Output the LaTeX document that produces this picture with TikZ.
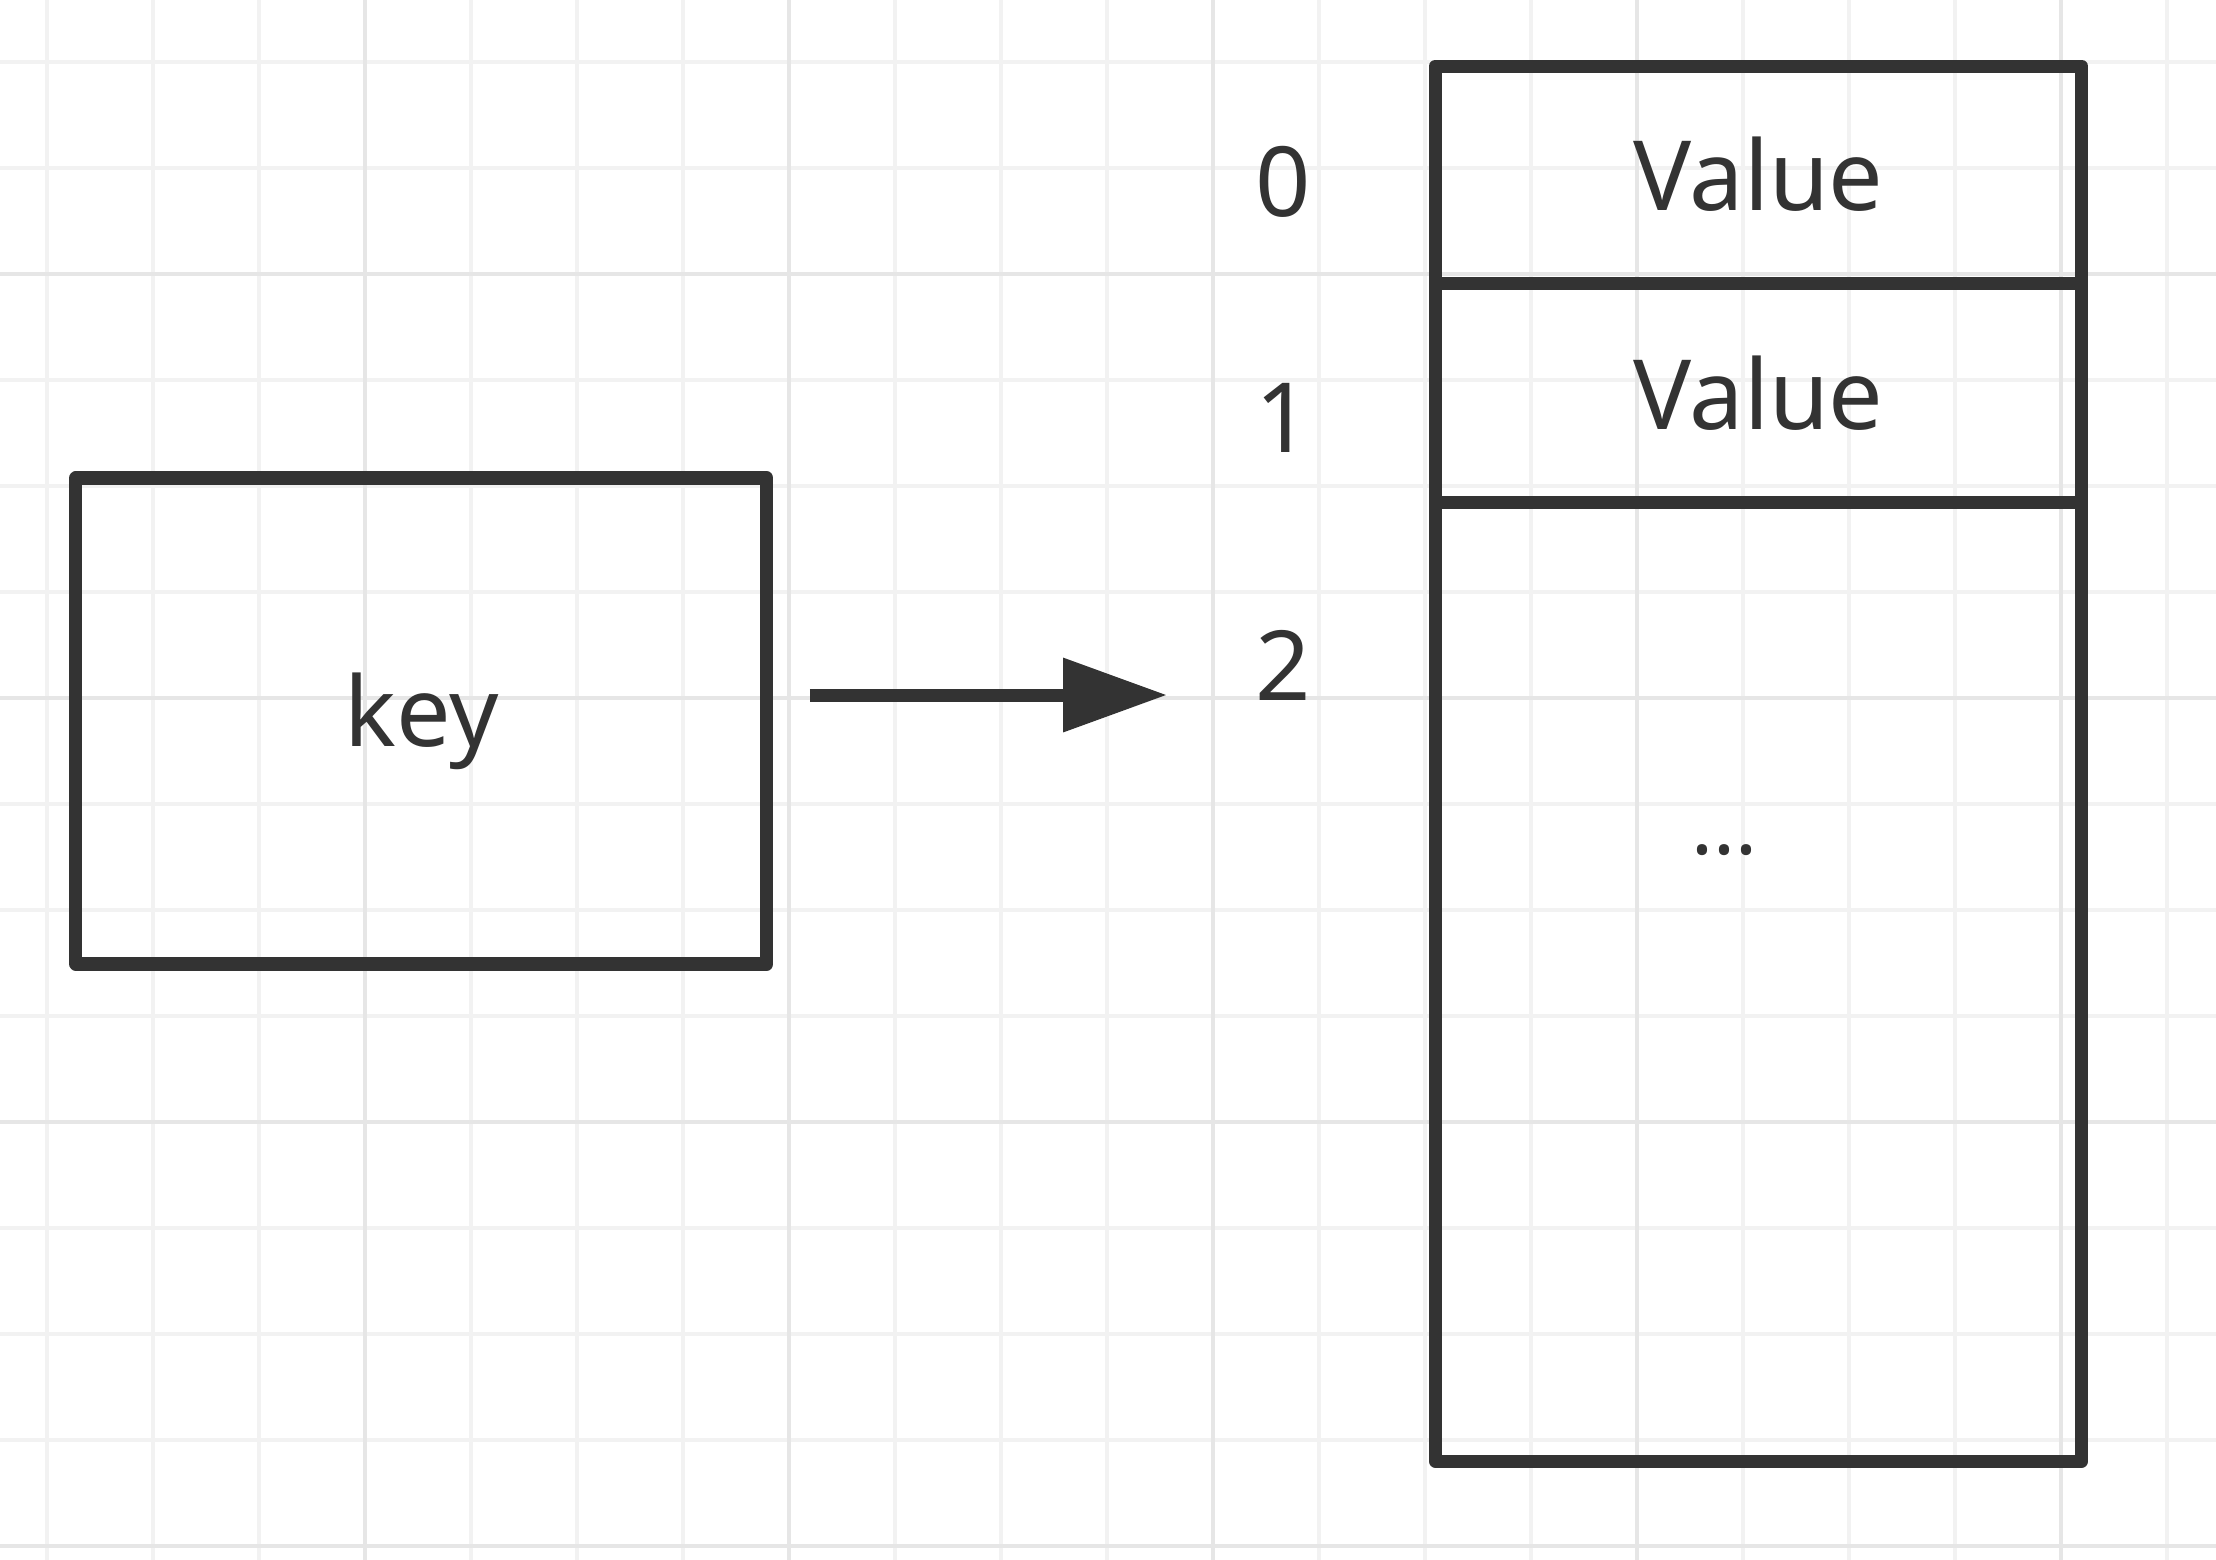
\documentclass[tikz,border=0pt]{standalone}
\usepackage{fontspec}
\setmainfont{Noto Sans}
\usepackage{tikz}
\usetikzlibrary{positioning}
\usetikzlibrary{arrows.meta}
\definecolor{ink}{HTML}{333333}
\definecolor{gridminor}{HTML}{F2F2F2}
\definecolor{gridmajor}{HTML}{E6E6E6}
\tikzset{box/.style={draw=ink,line width=3.5pt,line join=round,inner sep=0pt,outer sep=0pt,text=ink,font=\fontsize{26}{30}\selectfont}}
\tikzset{cell/.style={box,minimum width=6.1cm}}
\tikzset{idx/.style={text=ink,inner sep=0pt,font=\fontsize{26}{30}\selectfont}}
\tikzset{link/.style={draw=ink,line width=3.5pt,-{Triangle[length=0.98cm,width=0.67cm]}}}

\begin{document}
\begin{tikzpicture}
\useasboundingbox (0,0) rectangle (20.906,-14.717);
\fill[white] (0,0) rectangle (20.906,-14.717);
% grid
\foreach \x in {0,...,20} {
\draw[gridminor,line width=1pt] (0.443+\x,0) -- (0.443+\x,-14.717);
}
\foreach \y in {0,...,14} {
\draw[gridminor,line width=1pt] (0,-0.585-\y) -- (20.906,-0.585-\y);
}
\foreach \x in {3,7,11,15,19} {
\draw[gridmajor,line width=1pt] (0.443+\x,0) -- (0.443+\x,-14.717);
}
\foreach \y in {2,6,10,14} {
\draw[gridmajor,line width=1pt] (0,-0.585-\y) -- (20.906,-0.585-\y);
}
\node[box,minimum width=6.519cm,minimum height=4.585cm] (key) at (3.976,-6.802) {key};
\node[cell,minimum height=2.047cm] (cell0) at (16.59,-1.647) {Value};
\node[cell,minimum height=2.07cm,below=0pt of cell0] (cell1) {Value};
\node[cell,minimum height=9.043cm,below=0pt of cell1] (cell2) {};
\node[idx,font=\fontsize{22}{26}\selectfont] (dots) at (16.27,-8.02) {...};
\foreach \i/\y in {0/1.72,1/3.94,2/6.28} {
\node[idx] (idx\i) at (12.11,-\y) {\i};
}
\coordinate (tip) at (11.01,-6.557);
\draw[link,shorten <=0.406cm] (key.east |- tip) -- (tip);
\end{tikzpicture}
\end{document}
